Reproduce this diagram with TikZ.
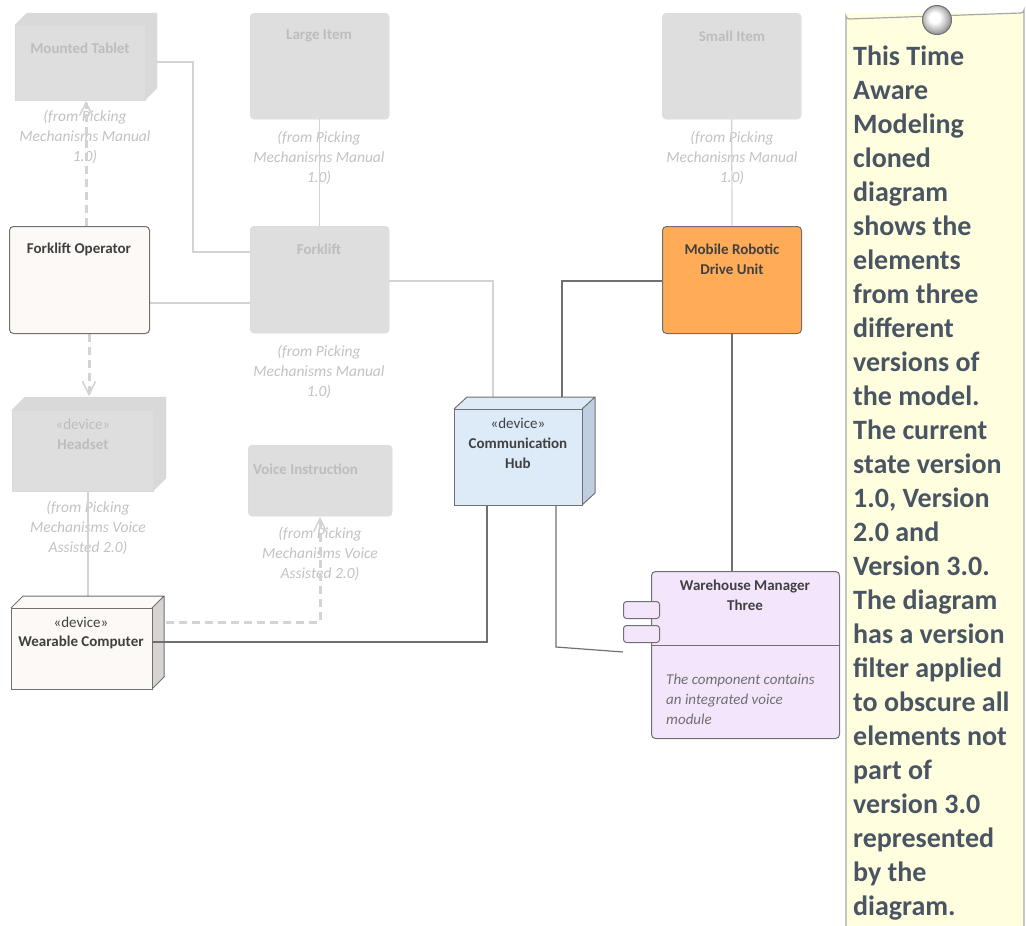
\documentclass[tikz,border=0pt]{standalone}
\usepackage{fontspec}
\setmainfont{Carlito}
\usetikzlibrary{arrows.meta,shapes.misc}
\definecolor{fadefill}{HTML}{DEDEDE}
\definecolor{fadeside}{HTML}{D9D9D9}
\definecolor{fadeline}{HTML}{D3D3D3}
\definecolor{fadetext}{HTML}{BDBDBD}
\definecolor{fadeital}{HTML}{C2C2C2}
\definecolor{darkline}{HTML}{707070}
\definecolor{darktext}{HTML}{404040}
\definecolor{creamfill}{HTML}{FDF9F6}
\definecolor{creamside}{HTML}{D8D4D1}
\definecolor{orangefill}{HTML}{FFAB57}
\definecolor{bluefill}{HTML}{DDEBF9}
\definecolor{blueside}{HTML}{BFCEE0}
\definecolor{lilacfill}{HTML}{F3E6FC}
\definecolor{notefill}{HTML}{FFFFE0}
\definecolor{noteborder}{HTML}{A8A8A8}
\definecolor{notetext}{HTML}{4A5564}
\pgfdeclareradialshading{pinball}{\pgfpoint{-5bp}{5bp}}{color(0bp)=(white); color(9bp)=(white); color(21bp)=(black!28); color(25bp)=(black!40); color(50bp)=(black!40)}
\tikzset{
  fadebox/.style={draw=fadeside, fill=fadefill, rectangle, rounded corners=4pt, inner sep=0pt, anchor=north west},
  fadecube/.style={draw=fadeside, fill=fadefill, rectangle, inner sep=0pt, anchor=north west},
  livebox/.style={draw=darkline, line width=1pt, rectangle, rounded corners=4pt, inner sep=0pt, anchor=north west},
  livecube/.style={draw=darkline, line width=1pt, rectangle, inner sep=0pt, anchor=north west},
  fadetitle/.style={text=fadetext, font=\fontsize{15}{20}\selectfont\bfseries, align=center, inner sep=0pt},
  livetitle/.style={text=darktext, font=\fontsize{15}{20}\selectfont\bfseries, align=center, inner sep=0pt},
  stereo/.style={font=\fontsize{15}{20}\selectfont},
  fromtext/.style={text=fadeital, font=\fontsize{15.5}{20}\selectfont\itshape, align=center, inner sep=0pt},
  fadeconn/.style={draw=fadeline, line width=1.2pt},
  darkconn/.style={draw=darkline, line width=1.2pt},
  fadedash/.style={draw=fadeline, line width=3pt, dash pattern=on 8pt off 5pt},
  openarrow/.style={-{Straight Barb[length=13pt,width=13pt,line width=1.5pt]}},
}
\begin{document}
\begin{tikzpicture}[x=1pt,y=-1pt]
\useasboundingbox (0,0) rectangle (1026,926);

% ---------- faded elements ----------
% Mounted Tablet (3D)
\fill[fadeside] (15,25) -- (27,13) -- (157,13) -- (157,88) -- (145,100) -- (145,25) -- cycle;
\draw[fadeside] (15,25) -- (27,13) -- (157,13) -- (157,88) -- (145,100) (145,25) -- (157,13);
\node[fadecube, minimum width=130pt, minimum height=75pt] (tablet) at (15,25) {};
\node[fadetitle] (ttablet) at (80,48) {Mounted Tablet};
\node[fromtext] (ftablet) at (85,137) {(from Picking\\Mechanisms Manual\\1.0)};

% Large Item
\node[fadebox, minimum width=139pt, minimum height=106pt] (large) at (250,13) {};
\node[fadetitle] (tlarge) at (319,36) {Large Item};
\node[fromtext] (flarge) at (319,158) {(from Picking\\Mechanisms Manual\\1.0)};

% Small Item
\node[fadebox, minimum width=139pt, minimum height=106pt] (small) at (662,13) {};
\node[fadetitle] (tsmall) at (732,36) {Small Item};
\node[fromtext] (fsmall) at (732,158) {(from Picking\\Mechanisms Manual\\1.0)};

% Forklift
\node[fadebox, minimum width=139pt, minimum height=107pt] (forklift) at (250,226) {};
\node[fadetitle] (tforklift) at (319,249) {Forklift};
\node[fromtext] (fforklift) at (319,372) {(from Picking\\Mechanisms Manual\\1.0)};

% Headset (3D)
\fill[fadeside] (12,410) -- (25,397) -- (166,397) -- (166,478) -- (153,491) -- (153,410) -- cycle;
\draw[fadeside] (12,410) -- (25,397) -- (166,397) -- (166,478) -- (153,491) (153,410) -- (166,397);
\node[fadecube, minimum width=141pt, minimum height=81pt] (headset) at (12,410) {};
\node[fadetitle, stereo] (sheadset) at (83,424) {«device»};
\node[fadetitle] (theadset) at (83,444) {Headset};
\node[fromtext] (fheadset) at (88,528) {(from Picking\\Mechanisms Voice\\Assisted 2.0)};

% Voice Instruction
\node[fadebox, minimum width=144pt, minimum height=71pt] (voice) at (248,445) {};
\node[fadetitle, anchor=west] (tvoice) at (253,469) {Voice Instruction};
\node[fromtext] (fvoice) at (320,554) {(from Picking\\Mechanisms Voice\\Assisted 2.0)};

% ---------- faded connectors ----------
\draw[fadeconn] (157,62) -- (193,62) -- (193,252) -- (forklift.west |- 0,252);
\draw[fadeconn] (large.south) -- (forklift.north);
\draw[fadeconn] (small.south) -- (732,226);
\draw[fadeconn] (149,303) -- (forklift.west |- 0,303);
\draw[fadeconn] (forklift.east |- 0,281) -- (493,281) -- (493,397);
\draw[fadeconn] (88,491) -- (88,596);
\draw[fadedash, openarrow] (86,226) -- (86,101);
\draw[fadedash, openarrow] (89,334) -- (89,396);
\draw[fadedash, openarrow] (153,622) -- (320,622) -- (320,517);

% ---------- live elements ----------
% Forklift Operator
\node[livebox, fill=creamfill, minimum width=140pt, minimum height=107pt] (operator) at (9,226) {};
\node[livetitle] (toperator) at (79,249) {Forklift Operator};

% Mobile Robotic Drive Unit
\node[livebox, fill=orangefill, minimum width=139pt, minimum height=107pt] (mobile) at (662,226) {};
\node[livetitle] (tmobile) at (732,259) {Mobile Robotic\\Drive Unit};

% Wearable Computer (3D)
\fill[creamfill] (11,608) -- (23,596) -- (164,596) -- (152,608) -- cycle;
\fill[creamside] (152,608) -- (164,596) -- (164,677) -- (152,689) -- cycle;
\draw[darkline, line width=1pt] (11,608) -- (23,596) -- (164,596) -- (164,677) -- (152,689) (152,608) -- (164,596);
\node[livecube, fill=creamfill, minimum width=141pt, minimum height=81pt] (wearable) at (11,608) {};
\node[livetitle, stereo] (swearable) at (81,622) {«device»};
\node[livetitle] (twearable) at (81,642) {Wearable Computer};

% Communication Hub (3D)
\fill[bluefill] (454,409) -- (467,397) -- (595,397) -- (582,409) -- cycle;
\fill[blueside] (582,409) -- (595,397) -- (595,493) -- (582,505) -- cycle;
\draw[darkline, line width=1pt] (454,409) -- (467,397) -- (595,397) -- (595,493) -- (582,505) (582,409) -- (595,397);
\node[livecube, fill=bluefill, minimum width=128pt, minimum height=96pt] (hub) at (454,409) {};
\node[livetitle, stereo] (shub) at (518,423) {«device»};
\node[livetitle] (thub) at (518,453) {Communication\\Hub};

% Warehouse Manager Three (component)
\node[livebox, fill=lilacfill, minimum width=188pt, minimum height=167pt] (whm) at (651,571) {};
\draw[darkline, line width=1pt] (651,645) -- (839,645);
\node[livebox, fill=lilacfill, rounded corners=3pt, minimum width=36pt, minimum height=17pt] (port1) at (623,601) {};
\node[livebox, fill=lilacfill, rounded corners=3pt, minimum width=36pt, minimum height=17pt] (port2) at (623,625) {};
\node[livetitle] (twhm) at (745,595) {Warehouse Manager\\Three};
\node[text=darkline, font=\fontsize{15}{20}\selectfont\itshape, align=left, anchor=west, inner sep=0pt] (dwhm) at (666,699) {The component contains\\an integrated voice\\module};

% ---------- live connectors ----------
\draw[darkconn] (152,642) -- (487,642) -- (487,505);
\draw[darkconn] (mobile.west |- 0,281) -- (562,281) -- (562,397);
\draw[darkconn] (mobile.south) -- (whm.north -| mobile.south);
\draw[darkconn] (556,505) -- (556,647) -- (623,652);

% ---------- note ----------
\fill[notefill] (846,930) -- (846,13) -- (1024,13) -- (1024,930) -- cycle;
\draw[noteborder, line width=1.2pt] (846,930) -- (846,16) arc[start angle=180, end angle=90, radius=3] -- (1021,13) arc[start angle=90, end angle=0, radius=3] -- (1024,930);
\node[circle, draw=darkline, line width=1pt, shading=pinball, minimum size=29pt, inner sep=0pt] (pin) at (937,20) {};
\node[text=notetext, font=\fontsize{28}{34}\selectfont\bfseries, align=left, anchor=base west, inner sep=0pt] (note) at (853,915) {This Time\\Aware\\Modeling\\cloned\\diagram\\shows the\\elements\\from three\\different\\versions of\\the model.\\The current\\state version\\1.0, Version\\2.0 and\\Version 3.0.\\The diagram\\has a version\\filter applied\\to obscure all\\elements not\\part of\\version 3.0\\represented\\by the\\diagram.};
\end{tikzpicture}
\end{document}
